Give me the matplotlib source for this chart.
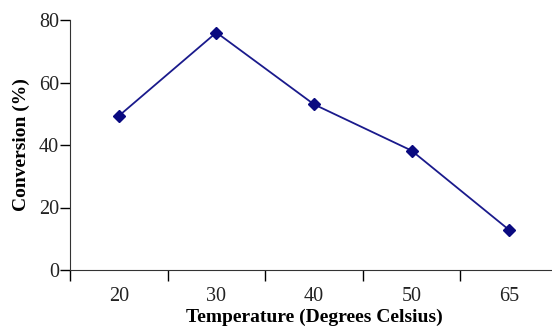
import matplotlib
matplotlib.use("Agg")
import matplotlib.pyplot as plt
import numpy as np

categories = ["20", "30", "40", "50", "65"]
conversion = [49.3, 76.0, 53.0, 38.2, 12.8]
y_ticks = [0, 20, 40, 60, 80]

plt.rcParams['font.family'] = ['Liberation Serif', 'DejaVu Serif']

fig = plt.figure(figsize=(5.52, 3.27), dpi=100)
ax = fig.add_axes([70/552, (327-270)/327, (558-70)/552, 250/327])

x = np.arange(len(categories))
ax.plot(x, conversion, color='#1a1a8c', lw=1.3, marker='D', ms=6,
        markerfacecolor='#0a0a80', markeredgecolor='#0a0a80', clip_on=False)

ax.set_xlim(-0.5, len(categories) - 0.5)
ax.set_ylim(0, 80)
ax.set_yticks(y_ticks)
ax.set_yticklabels([str(v) for v in y_ticks], fontsize=14.5, color='#222222')

ax.set_xticks(np.arange(len(categories) + 1) - 0.5)
ax.set_xticklabels([])
ax.set_xticks(x, minor=True)
ax.set_xticklabels(categories, minor=True, fontsize=14.5, color='#222222')
ax.tick_params(axis='x', which='minor', length=0, pad=12)
ax.tick_params(axis='x', which='major', length=8, width=1, direction='out')
ax.tick_params(axis='y', length=7, width=1, direction='out', pad=1)

for s in ['top', 'right']:
    ax.spines[s].set_visible(False)
ax.spines['left'].set_color('#333333')
ax.spines['bottom'].set_color('#333333')

ax.set_xlabel('Temperature (Degrees Celsius)', fontsize=14, fontweight='bold', labelpad=2)
ax.set_ylabel('Conversion (%)', fontsize=14, fontweight='bold', labelpad=6)

fig.savefig('out.png', dpi=100)
